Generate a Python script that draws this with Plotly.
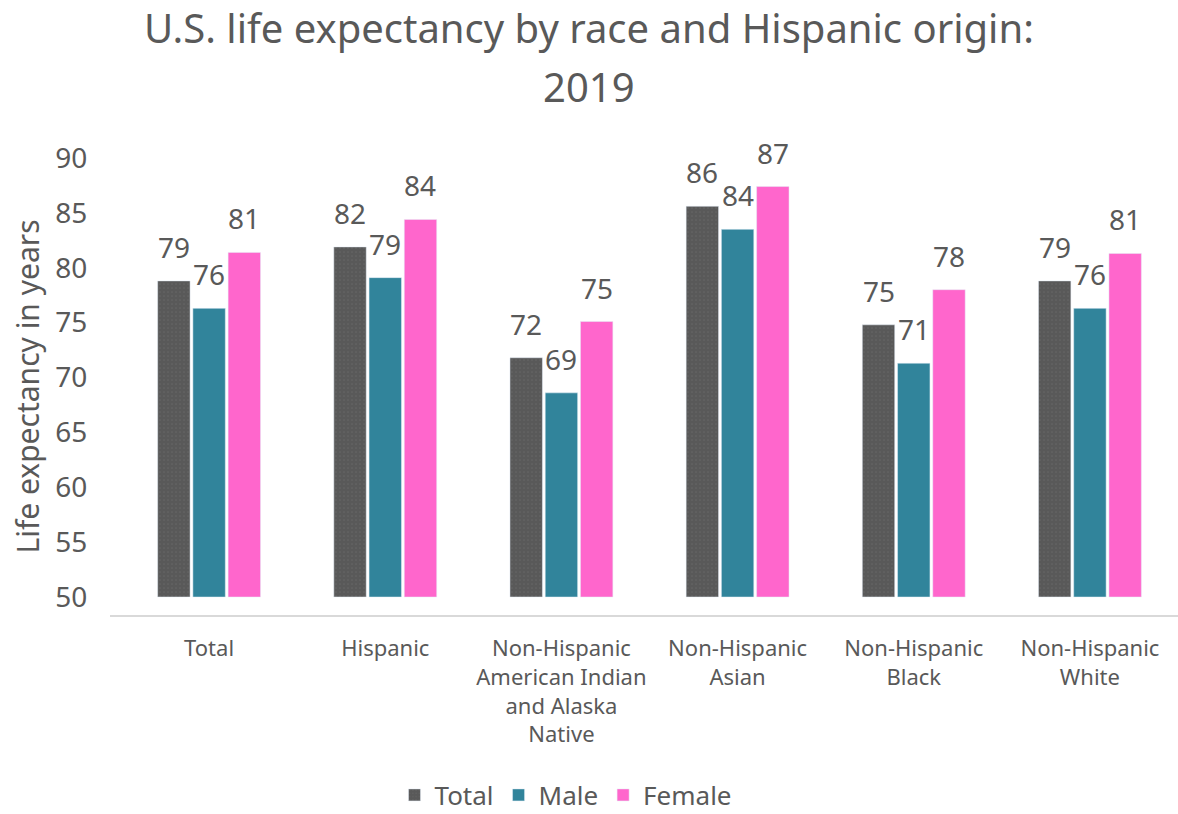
import plotly.graph_objects as go

categories = ["Total", "Hispanic", "Non-Hispanic<br>American Indian<br>and Alaska<br>Native",
              "Non-Hispanic<br>Asian", "Non-Hispanic<br>Black", "Non-Hispanic<br>White"]
series_names = ["Total", "Male", "Female"]
total_vals = [78.8, 81.9, 71.8, 85.6, 74.8, 78.8]
male_vals = [76.3, 79.1, 68.6, 83.5, 71.3, 76.3]
female_vals = [81.4, 84.4, 75.1, 87.4, 78.0, 81.3]
tick_vals_y = [50, 55, 60, 65, 70, 75, 80, 85, 90]

colors = ["#595959", "#31849B", "#FF66CC"]
FONT = "Noto Sans"
TXT = "#595959"

BASE = 50
BARGAP = 0.40
x_pos = list(range(len(categories)))

W, H = 1178, 814
# plot area in px
L, R, T, B = 110, 1178, 158, 615


def px_to_paper_x(px):
    return (px - L) / (R - L)


def px_to_paper_y(py):
    return (B - py) / (B - T)


fig = go.Figure()
all_vals = [total_vals, male_vals, female_vals]
for j, (name, vals, col) in enumerate(zip(series_names, all_vals, colors)):
    marker = dict(color=col)
    if j == 0:
        marker["pattern"] = dict(shape=".", fgcolor="#707070", size=4, solidity=0.15)
    fig.add_trace(go.Bar(
        x=x_pos, y=[v - BASE for v in vals], base=BASE, name=name,
        marker=marker,
    ))

slot = (1 - BARGAP) / 3
annotations = []
for j, vals in enumerate(all_vals):
    for i, v in enumerate(vals):
        annotations.append(dict(
            x=i + (j - 1) * slot, y=v, xref="x", yref="y",
            text=f"{round(v):d}", showarrow=False, yanchor="bottom",
            yshift=13, font=dict(family=FONT, size=28, color=TXT),
        ))

annotations.append(dict(
    x=px_to_paper_x(589), y=px_to_paper_y(87), xref="paper", yref="paper",
    text="2019", showarrow=False, xanchor="center", yanchor="middle",
    font=dict(family=FONT, size=40, color=TXT),
))

fig.update_layout(
    width=W, height=H,
    paper_bgcolor="white", plot_bgcolor="white",
    margin=dict(l=L, r=W - R, t=T, b=H - B, autoexpand=False),
    barmode="group", bargap=BARGAP, bargroupgap=0.08,
    title=dict(text="U.S. life expectancy by race and Hispanic origin:",
               x=589 / W, xanchor="center", y=1 - 29 / H, yanchor="middle",
               font=dict(family=FONT, size=40, color=TXT)),
    font=dict(family=FONT, color=TXT),
    showlegend=True,
    legend=dict(orientation="h", x=px_to_paper_x(566), xanchor="center",
                y=px_to_paper_y(795), yanchor="middle",
                font=dict(family=FONT, size=26, color=TXT), traceorder="normal"),
    annotations=annotations,
)
fig.update_xaxes(
    tickmode="array", tickvals=x_pos, ticktext=categories,
    range=[-0.5625, 5.5],
    showline=True, linecolor="#d9d9d9", linewidth=2,
    showgrid=False, zeroline=False,
    ticks="outside", ticklen=13, tickcolor="rgba(0,0,0,0)",
    tickfont=dict(family=FONT, size=22, color=TXT),
)
fig.update_yaxes(
    range=[48.36, 90], tickmode="array", tickvals=tick_vals_y,
    showline=False, showgrid=False, zeroline=False,
    ticks="outside", ticklen=16, tickcolor="rgba(0,0,0,0)",
    tickfont=dict(family=FONT, size=28, color=TXT),
    title=dict(text="Life expectancy in years", font=dict(family=FONT, size=30, color=TXT),
               standoff=6),
)

fig.write_html("out.html", config={"displayModeBar": False},
               post_script="document.body.style.margin='0px';")
